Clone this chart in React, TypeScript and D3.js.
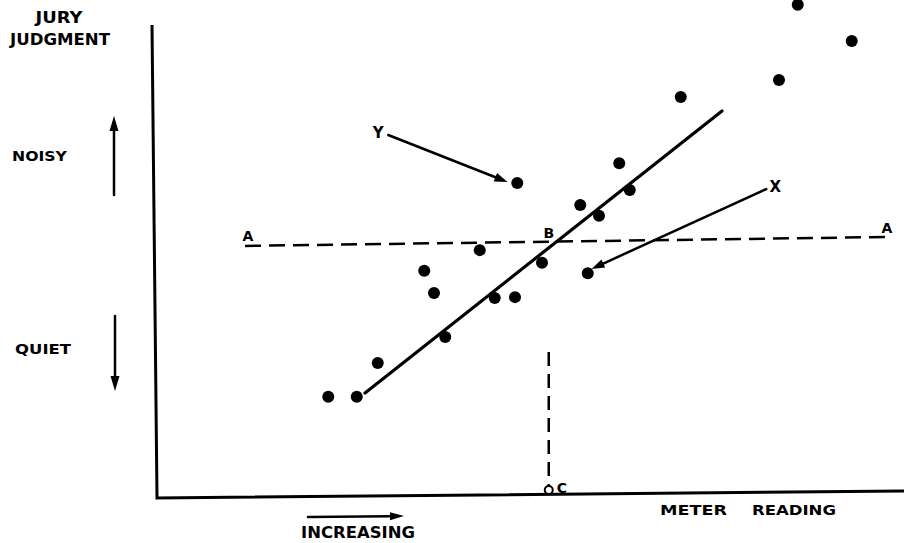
import React from "react";
import * as d3 from "d3";

// Observations: meter reading vs jury judgment (arbitrary units, 0–100)
const meterReading = [23.1, 26.9, 29.7, 35.9, 37.2, 38.7, 43.3, 45.3, 48.0, 48.3, 51.6, 56.7, 57.7, 59.2, 61.9, 63.3, 70.1, 83.2, 85.7, 92.9];
const juryJudgment = [20.9, 20.9, 28.1, 47.7, 43.0, 33.6, 52.1, 41.9, 42.1, 66.4, 49.4, 61.7, 47.2, 59.4, 70.6, 64.9, 84.7, 88.3, 104.3, 96.6];

// Fitted line through the cloud
const fitX = [28.0, 75.6];
const fitY = [21.7, 81.7];

// Criterion level A–A (dashed)
const levelX = [12.0, 98.0];
const levelY = [53.0, 54.9];

// Meter reading C at which the fitted line crosses A–A
const pointC = 52.5;
const dropTopY = 30.4;

// Annotated observations
const labelY = { text: "Y", from: [31.1, 76.6], to: [47.0, 66.6] };
const labelX = { text: "X", from: [81.5, 65.1], to: [58.2, 48.1] };

const W = 904;
const H = 543;

const x = d3.scaleLinear().domain([0, 100]).range([155, 905]);
const y = d3.scaleLinear().domain([0, 100]).range([495, 25]);

const FONT = "'DejaVu Sans', Verdana, sans-serif";
const INK = "#000";

function Arrow({ x1, y1, x2, y2, w = 2.5, head = 13, half = 4.5 }: any) {
  const ang = Math.atan2(y2 - y1, x2 - x1);
  const bx = x2 - head * Math.cos(ang);
  const by = y2 - head * Math.sin(ang);
  const px = -Math.sin(ang) * half;
  const py = Math.cos(ang) * half;
  return (
    <g>
      <line x1={x1} y1={y1} x2={bx} y2={by} stroke={INK} strokeWidth={w} strokeLinecap="round" />
      <path d={`M${x2},${y2}L${bx + px},${by + py}L${bx - px},${by - py}Z`} fill={INK} />
    </g>
  );
}

function Label({ x: tx, y: ty, children, len, size = 14, anchor = "start" }: any) {
  return (
    <text
      x={tx}
      y={ty}
      fontFamily={FONT}
      fontWeight="bold"
      fontSize={size}
      textAnchor={anchor}
      dominantBaseline="central"
      textLength={len}
      lengthAdjust={len ? "spacingAndGlyphs" : undefined}
      fill={INK}
    >
      {children}
    </text>
  );
}

export default function App() {
  const pts = meterReading.map((m, i) => [x(m), y(juryJudgment[i])]);
  const fit = d3.line()([
    [x(fitX[0]), y(fitY[0])],
    [x(fitX[1]), y(fitY[1])],
  ]);
  const level = d3.line()([
    [x(levelX[0]), y(levelY[0])],
    [x(levelX[1]), y(levelY[1])],
  ]);
  const cx = x(pointC);
  const baseY = y(0);

  return (
    <svg width={W} height={H} style={{ position: "fixed", left: 0, top: 0, background: "#fff" }}>
      <rect width={W} height={H} fill="#fff" />

      {/* axes */}
      <path
        d={`M${x(0) - 3},${y(100)} L${x(0) + 2},${baseY + 3} L${W},${baseY - 4}`}
        fill="none"
        stroke={INK}
        strokeWidth={3}
        strokeLinejoin="miter"
      />

      {/* axis titles */}
      <Label x={59} y={18} len={47} size={15} anchor="middle">JURY</Label>
      <Label x={60} y={40} len={100} size={15} anchor="middle">JUDGMENT</Label>
      <Label x={12} y={156} len={55} size={14}>NOISY</Label>
      <Label x={15} y={349} len={56} size={14}>QUIET</Label>
      <Arrow x1={114} y1={195} x2={114} y2={116} head={15} half={4.5} />
      <Arrow x1={115} y1={316} x2={115} y2={391} head={15} half={4.5} />

      <Arrow x1={308} y1={517} x2={404} y2={516} head={14} half={4} w={2.5} />
      <Label x={358} y={533} len={114} size={15} anchor="middle">INCREASING</Label>
      <Label x={660} y={510} len={67} size={14}>METER</Label>
      <Label x={752} y={510} len={84} size={14}>READING</Label>

      {/* criterion level */}
      <path d={level ?? ""} fill="none" stroke={INK} strokeWidth={2.5} strokeDasharray="16 8" />
      <Label x={x(levelX[0]) + 3} y={y(levelY[0]) - 10} size={14} anchor="middle">A</Label>
      <Label x={x(levelX[1]) - 3} y={y(levelY[1]) - 9} size={14} anchor="middle">A</Label>

      {/* drop to C */}
      <line x1={cx} y1={y(dropTopY)} x2={cx} y2={baseY - 9} stroke={INK} strokeWidth={2.5} strokeDasharray="14 8" />
      <circle cx={cx} cy={baseY - 5} r={4} fill="#fff" stroke={INK} strokeWidth={2} />
      <Label x={cx + 8} y={baseY - 7} size={14}>C</Label>

      {/* fitted line */}
      <path d={fit ?? ""} fill="none" stroke={INK} strokeWidth={3.2} strokeLinecap="round" />
      <Label x={cx} y={233} size={14} anchor="middle">B</Label>

      {/* observations */}
      {pts.map(([px, py], i) => (
        <circle key={i} cx={px} cy={py} r={6} fill={INK} />
      ))}

      {/* callouts */}
      <Label x={x(labelY.from[0]) - 10} y={y(labelY.from[1]) - 2} size={15} anchor="middle">{labelY.text}</Label>
      <Arrow x1={x(labelY.from[0])} y1={y(labelY.from[1])} x2={x(labelY.to[0])} y2={y(labelY.to[1])} />
      <Label x={x(labelX.from[0]) + 9} y={y(labelX.from[1]) - 2} size={15} anchor="middle">{labelX.text}</Label>
      <Arrow x1={x(labelX.from[0])} y1={y(labelX.from[1])} x2={x(labelX.to[0])} y2={y(labelX.to[1])} />
    </svg>
  );
}
